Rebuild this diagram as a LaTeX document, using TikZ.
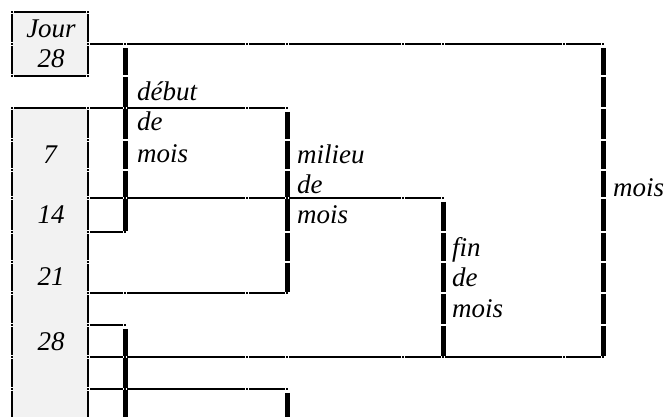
\documentclass[tikz,border=0pt]{standalone}
\usepackage{fontspec}
\setmainfont{Liberation Serif}
\begin{document}
\begin{tikzpicture}[x=1pt,y=-1pt,
  rulel/.style={line width=2pt, shorten <=2.2pt, shorten >=2.2pt},
  brk/.style={line width=5pt, shorten <=0.8pt, shorten >=0.8pt},
  lbl/.style={inner sep=0pt, anchor=base west, font=\fontsize{27}{31}\selectfont\itshape},
  num/.style={inner sep=0pt, anchor=base, font=\fontsize{27}{31}\selectfont\itshape}]
\useasboundingbox (0,0) rectangle (664,416);
\clip (0,0) rectangle (664,416);
% gray cells
\fill[gray!10] (12,12) rectangle (88,76);
\fill[gray!10] (12,108) rectangle (88,430);
% gray column borders
\foreach \x in {12,88}{
  \foreach \a/\b in {12/44,44/76,108/140,140/170,170/198,198/232,232/262,262/293,293/325,325/357,357/389,389/430}
    \draw[rulel] (\x,\a) -- (\x,\b);
  \foreach \y in {12,44,76,108,140,170,198,232,262,293,325,357,389}
    \fill (\x-0.7,\y-0.7) rectangle (\x+0.7,\y+0.7);
}
\draw[rulel] (12,12) -- (88,12);
\draw[rulel] (12,76) -- (88,76);
\draw[rulel] (12,108) -- (88,108);
% horizontal rules
\foreach \a/\b in {88/125,125/247,247/287,287/403,403/443,443/564,564/603}{
  \draw[rulel] (\a,44) -- (\b,44);
  \draw[rulel] (\a,357) -- (\b,357);
  \fill (\b-0.7,43.3) rectangle (\b+0.7,44.7);
  \fill (\b-0.7,356.3) rectangle (\b+0.7,357.7);
}
\foreach \a/\b in {88/125,125/247,247/287}{
  \draw[rulel] (\a,108) -- (\b,108);
  \draw[rulel] (\a,293) -- (\b,293);
  \draw[rulel] (\a,389) -- (\b,389);
  \fill (\b-0.7,107.3) rectangle (\b+0.7,108.7);
  \fill (\b-0.7,292.3) rectangle (\b+0.7,293.7);
  \fill (\b-0.7,388.3) rectangle (\b+0.7,389.7);
}
\foreach \a/\b in {88/125,125/247,247/287,287/403,403/443}{
  \draw[rulel] (\a,198) -- (\b,198);
  \fill (\b-0.7,197.3) rectangle (\b+0.7,198.7);
}
\draw[rulel] (88,232) -- (125,232);
\fill (124.3,231.3) rectangle (125.7,232.7);
\draw[rulel] (88,325) -- (125,325);
\fill (124.3,324.3) rectangle (125.7,325.7);
% thick bracket lines
\foreach \a/\b in {47/76,76/108,108/140,140/170,170/198,198/232,328/357,357/389,389/430}
  \draw[brk] (125.5,\a) -- (125.5,\b);
\foreach \a/\b in {111/140,140/170,170/198,198/232,232/262,262/293,392/430}
  \draw[brk] (287,\a) -- (287,\b);
\foreach \a/\b in {201/232,232/262,262/293,293/325,325/357}
  \draw[brk] (443,\a) -- (443,\b);
\foreach \a/\b in {47/76,76/108,108/140,140/170,170/198,198/232,232/262,262/293,293/325,325/357}
  \draw[brk] (603,\a) -- (603,\b);
% texts
\node[num] (jour) at (51,37) {Jour};
\node[num] (j28) at (51,67) {28};
\node[num] (n7) at (50,163) {7};
\node[num] (n14) at (51,223) {14};
\node[num] (n21) at (51,285) {21};
\node[num] (n28) at (51,350) {28};
\node[lbl] (deb1) at (137,100) {début};
\node[lbl] (deb2) at (137,130) {de};
\node[lbl] (deb3) at (137,162) {mois};
\node[lbl] (mil1) at (297,163) {milieu};
\node[lbl] (mil2) at (297,193) {de};
\node[lbl] (mil3) at (297,223) {mois};
\node[lbl] (fin1) at (452,256) {fin};
\node[lbl] (fin2) at (452,286) {de};
\node[lbl] (fin3) at (452,317) {mois};
\node[lbl] (mois) at (613,196) {mois};
\end{tikzpicture}
\end{document}
